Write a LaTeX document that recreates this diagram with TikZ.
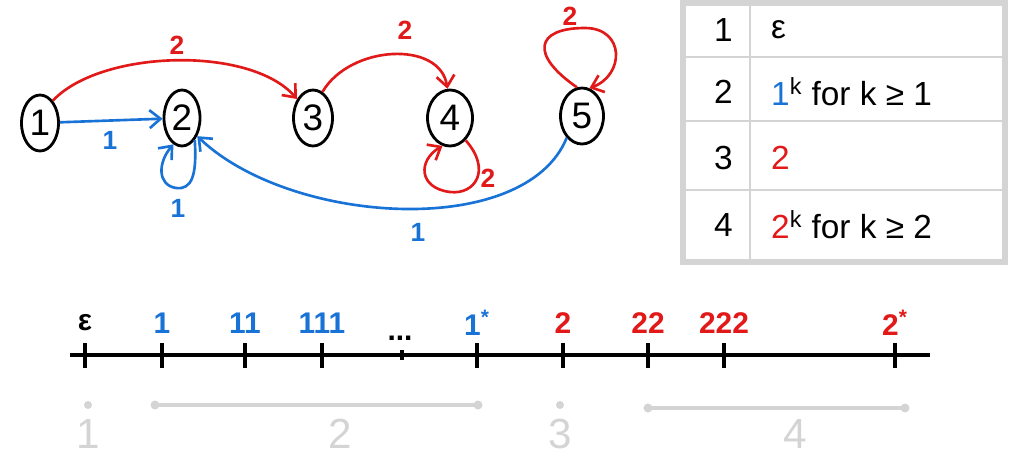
\documentclass[tikz,border=0pt]{standalone}
\usepackage{fontspec}
\setmainfont{Liberation Sans}
\definecolor{penred}{RGB}{225,25,25}
\definecolor{penblue}{RGB}{25,115,215}
\definecolor{pengray}{RGB}{212,212,212}
\usetikzlibrary{
  shapes.geometric,
  arrows.meta,
  positioning
}

\begin{document}
\begin{tikzpicture}[
  x=0.02cm, y=-0.02cm,
  vertex/.style={ellipse, draw, line width=1.6pt, minimum width=0.78cm, minimum height=1.12cm, inner sep=0pt, font=\fontsize{21}{23}\selectfont},
  redarc/.style={-{Straight Barb[length=2.2mm,width=3.6mm]}, line width=1.5pt, penred},
  bluearc/.style={-{Straight Barb[length=2.2mm,width=3.6mm]}, line width=1.5pt, penblue},
  rlab/.style={font=\fontsize{15}{17}\selectfont\bfseries, text=penred},
  blab/.style={font=\fontsize{15}{17}\selectfont\bfseries, text=penblue},
  cell/.style={font=\fontsize{19}{22}\selectfont, anchor=west},
  notch/.style={line width=1.8pt},
  marklab/.style={font=\fontsize{17}{19}\selectfont\bfseries},
  glab/.style={font=\fontsize{24}{26}\selectfont, text=pengray},
  gline/.style={line width=2.5pt, pengray, line cap=round}
]
  \useasboundingbox (0,0) rectangle (1018,460);

  % States
  \node[vertex, minimum width=0.74cm] (n1) at (40,123) {1};
  \node[vertex, minimum width=0.72cm] (n2) at (182,118) {2};
  \node[vertex] (n3) at (313,118) {3};
  \node[vertex, minimum width=0.9cm] (n4) at (450,118) {4};
  \node[vertex, minimum width=0.86cm] (n5) at (582,116) {5};

  % Red transitions
  \draw[redarc] (n1.60) .. controls (100,50) and (250,45) .. (n3.130);
  \node[rlab] (r13) at (177,45) {2};
  \draw[redarc] (n3.70) .. controls (350,45) and (440,40) .. (n4.95);
  \node[rlab] (r34) at (405,30) {2};
  \draw[redarc] (n5.100) .. controls (530,55) and (535,28) .. (585,28) .. controls (625,28) and (625,75) .. (n5.75);
  \node[rlab] (r55) at (570,16) {2};
  \draw[redarc] (n4.-55) .. controls (492,170) and (475,195) .. (450,192) .. controls (418,188) and (418,160) .. (n4.-105);
  \node[rlab] (r44) at (488,178) {2};

  % Blue transitions
  \draw[bluearc] (n1) -- (n2);
  \node[blab] (b12) at (110,140) {1};
  \draw[bluearc] (n2.-60) .. controls (197,175) and (192,190) .. (176,188) .. controls (157,185) and (158,162) .. (n2.-108);
  \node[blab] (b22) at (178,208) {1};
  \draw[bluearc] (n5.235) .. controls (525,240) and (290,225) .. (n2.-50);
  \node[blab] (b52) at (418,232) {1};

  % Table
  \draw[pengray, line width=1pt] (683,57) -- (1005,57) (683,121) -- (1005,121) (683,190) -- (1005,190) (750,3) -- (750,262);
  \draw[pengray, line width=3pt] (683,3) rectangle (1005,262);
  \node[cell] (c1a) at (708,30) {1};
  \node[cell] (c1b) at (765,30) {ε};
  \node[cell] (c2a) at (708,92) {2};
  \node[cell] (c2b) at (765,92) {\textcolor{penblue}{1}\textsuperscript{k} for k ≥ 1};
  \node[cell] (c3a) at (708,158) {3};
  \node[cell] (c3b) at (765,158) {\textcolor{penred}{2}};
  \node[cell] (c4a) at (708,225) {4};
  \node[cell] (c4b) at (765,225) {\textcolor{penred}{2}\textsuperscript{k} for k ≥ 2};

  % Number line
  \draw[line width=2.2pt] (70,355) -- (930,355);
  \foreach \x/\t/\c [count=\i] in {85/ε/black, 162/1/penblue, 245/11/penblue, 322/111/penblue, 477/1\textsuperscript{*}/penblue, 563/2/penred, 648/22/penred, 724/222/penred, 895/2\textsuperscript{*}/penred}{
    \draw[notch] (\x,343) -- (\x,368);
    \node[marklab, text=\c] (m\i) at (\x,323) {\t};
  }
  \draw[notch] (402,350) -- (402,360);
  \node[marklab] (dots) at (400,338) {...};

  % Classes
  \fill[pengray] (88,405) circle (4);
  \node[glab] (g1) at (88,434) {1};
  \draw[gline] (155,405) -- (478,405);
  \fill[pengray] (155,405) circle (4.5) (478,405) circle (4.5);
  \node[glab] (g2) at (340,434) {2};
  \fill[pengray] (560,405) circle (4);
  \node[glab] (g3) at (560,434) {3};
  \draw[gline] (648,408) -- (905,408);
  \fill[pengray] (648,408) circle (4.5) (905,408) circle (4.5);
  \node[glab] (g4) at (795,434) {4};
\end{tikzpicture}
\end{document}
